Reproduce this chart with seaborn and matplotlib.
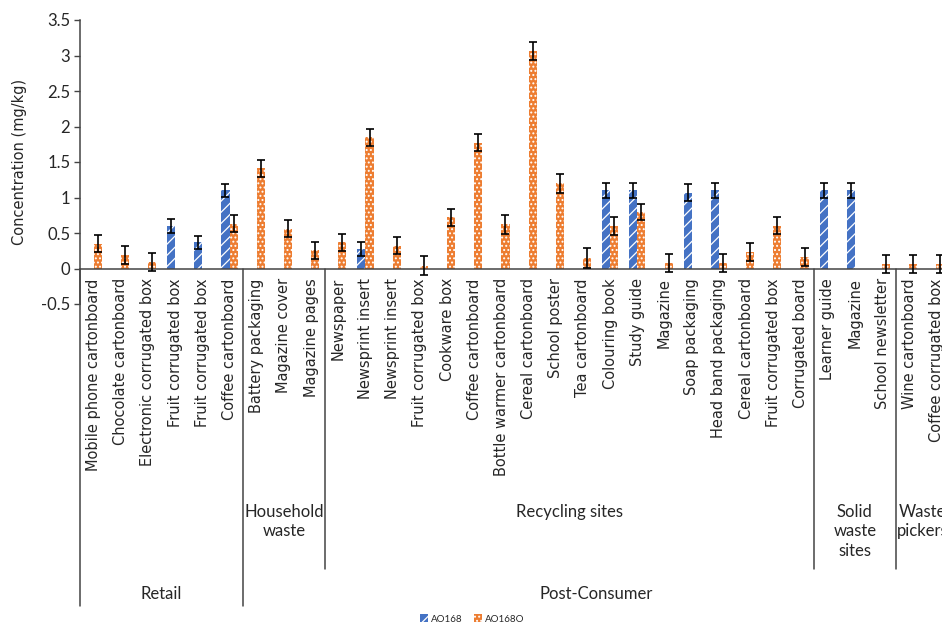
import numpy as np
import pandas as pd
import matplotlib
matplotlib.use("Agg")
import matplotlib.pyplot as plt
import matplotlib.transforms as mtransforms
from matplotlib.patches import Patch
import seaborn as sns

# ---------------- data ----------------
categories = [
    "Mobile phone cartonboard", "Chocolate cartonboard", "Electronic corrugated box",
    "Fruit corrugated box", "Fruit corrugated box", "Coffee cartonboard",
    "Battery packaging", "Magazine cover", "Magazine pages",
    "Newspaper", "Newsprint insert", "Newsprint insert", "Fruit corrugated box",
    "Cookware box", "Coffee cartonboard", "Bottle warmer cartonboard", "Cereal cartonboard",
    "School poster", "Tea cartonboard", "Colouring book", "Study guide", "Magazine",
    "Soap packaging", "Head band packaging", "Cereal cartonboard", "Fruit corrugated box",
    "Corrugated board",
    "Learner guide", "Magazine", "School newsletter",
    "Wine cartonboard", "Coffee corrugated box",
]
sub_groups = ["", "Household\nwaste", "Recycling sites", "Solid\nwaste\nsites", "Waste\npickers"]
sub_group_sizes = [6, 3, 18, 3, 2]
top_groups = ["Retail", "Post-Consumer"]
top_group_sizes = [6, 26]

series_names = ["AO168", "AO168O"]
ao168 = [None, None, None, 0.60, 0.37, 1.10,
         None, None, None,
         None, 0.27, None, None, None, None, None, None, None, None, 1.10, 1.10, None,
         1.07, 1.10, None, None, None,
         1.10, 1.10, None,
         None, None]
ao168_err = [None, None, None, 0.10, 0.09, 0.09,
             None, None, None,
             None, 0.10, None, None, None, None, None, None, None, None, 0.10, 0.10, None,
             0.12, 0.10, None, None, None,
             0.10, 0.10, None,
             None, None]
ao168o = [0.35, 0.19, 0.09, None, None, 0.63,
          1.41, 0.56, 0.26,
          0.37, 1.85, 0.32, 0.04, 0.72, 1.77, 0.62, 3.06, 1.20, 0.15, 0.60, 0.80, 0.08,
          None, 0.08, 0.23, 0.60, 0.16,
          None, None, 0.06,
          0.06, 0.06]
ao168o_err = [0.12, 0.13, 0.13, None, None, 0.12,
              0.12, 0.12, 0.12,
              0.12, 0.12, 0.12, 0.13, 0.12, 0.12, 0.13, 0.13, 0.13, 0.14, 0.13, 0.11, 0.13,
              None, 0.13, 0.13, 0.12, 0.13,
              None, None, 0.13,
              0.13, 0.13]

colors = {"AO168": "#4472C4", "AO168O": "#ED7D31"}
hatches = {"AO168": "///", "AO168O": "...."}

# ---------------- long table ----------------
rows = []
for i in range(len(categories)):
    for s, vals, errs in (("AO168", ao168, ao168_err), ("AO168O", ao168o, ao168o_err)):
        if vals[i] is not None:
            rows.append({"idx": i, "series": s, "value": vals[i], "err": errs[i]})
df = pd.DataFrame(rows)

# ---------------- figure ----------------
sns.set_theme(style="white")
plt.rcParams["font.family"] = ["DejaVu Sans"]
plt.rcParams["hatch.linewidth"] = 0.9

W, H = 942, 628
fig = plt.figure(figsize=(W / 100, H / 100), dpi=100)
ax_left, ax_right, ax_top, ax_bot = 80, 950, 20, 304
ax = fig.add_axes([ax_left / W, (H - ax_bot) / H, (ax_right - ax_left) / W, (ax_bot - ax_top) / H])

sns.barplot(data=df, x="idx", y="value", hue="series", hue_order=series_names,
            order=list(range(len(categories))), palette=colors, width=0.6,
            dodge=True, errorbar=None, ax=ax, legend=False, saturation=1)

# hatching + error bars
for cont, s in zip(ax.containers, series_names):
    sub = df[df["series"] == s].set_index("idx")
    xs, ys, es = [], [], []
    for p in cont.patches:
        h = p.get_height()
        if not np.isfinite(h):
            continue
        p.set_hatch(hatches[s])
        p.set_edgecolor("white")
        p.set_linewidth(0)
        xc = p.get_x() + p.get_width() / 2
        i = int(round(xc))
        if i in sub.index:
            xs.append(xc)
            ys.append(sub.loc[i, "value"])
            es.append(sub.loc[i, "err"])
    ax.errorbar(xs, ys, yerr=es, fmt="none", ecolor="black", elinewidth=1.2,
                capsize=3, capthick=1.2, zorder=5)

# spines first (set_position resets ticks)
for sp in ["top", "right"]:
    ax.spines[sp].set_visible(False)
ax.spines["bottom"].set_position(("data", 0))
ax.spines["bottom"].set_color("#444444")
ax.spines["left"].set_color("#444444")
for sp in ax.spines.values():
    sp.set_linewidth(1.1)

ax.set_ylim(-0.5, 3.5)
ax.set_xlim(-0.5, len(categories) - 0.5)
ax.set_yticks(np.arange(-0.5, 3.51, 0.5))
ax.set_yticklabels(["-0.5", "0", "0.5", "1", "1.5", "2", "2.5", "3", "3.5"],
                   family=["Lato", "DejaVu Sans"], fontsize=12)
ax.set_ylabel("Concentration (mg/kg)", fontsize=10.5, labelpad=10, color="#262626")
ax.set_xlabel("")
ax.set_xticks(range(len(categories)))
ax.set_xticklabels(categories, rotation=90, fontsize=10.5, va="top", ha="center",
                   color="#262626")
ax.tick_params(axis="x", length=0, pad=7)
ax.tick_params(axis="y", direction="out", length=4, width=1, color="#444444", left=True, pad=3)

# hierarchical category separators and labels
trans = mtransforms.blended_transform_factory(ax.transData, ax.transAxes)
def ay(py):
    return (ax_bot - py) / (ax_bot - ax_top)
y0 = ay(269)
y_long = ay(606)
y_short = ay(569)

ax.plot([-0.5, -0.5], [y0, y_long], transform=trans, color="#444444", lw=1.1, clip_on=False)
start = 0
top_bounds = set(np.cumsum(top_group_sizes)[:-1])
for name, n in zip(sub_groups, sub_group_sizes):
    end = start + n
    center = (start + end - 1) / 2
    if name:
        ax.text(center, ay(504), name, transform=trans, ha="center", va="top",
                fontsize=12, family=["Lato", "DejaVu Sans"], color="#262626", linespacing=1.25,
                clip_on=False)
    if end < len(categories):
        yb = y_long if end in top_bounds else y_short
        ax.plot([end - 0.5, end - 0.5], [y0, yb], transform=trans, color="#444444",
                lw=1.1, clip_on=False)
    start = end

start = 0
for name, n in zip(top_groups, top_group_sizes):
    end = start + n
    center = (start + end - 1) / 2
    ax.text(center, ay(594), name, transform=trans, ha="center", va="center",
            fontsize=12, family=["Lato", "DejaVu Sans"], color="#262626", clip_on=False)
    start = end

handles = [Patch(facecolor=colors[s], edgecolor="white", hatch=hatches[s], linewidth=0,
                 label=s) for s in series_names]
fig.legend(handles=handles, loc="center", bbox_to_anchor=(472 / W, (H - 619) / H), ncol=2,
           frameon=False, handlelength=0.8, handleheight=0.8,
           handletextpad=0.3, columnspacing=1.2, prop={"family": ["Lato", "DejaVu Sans"], "size": 7})

fig.savefig("out.png", dpi=100, facecolor="white")
